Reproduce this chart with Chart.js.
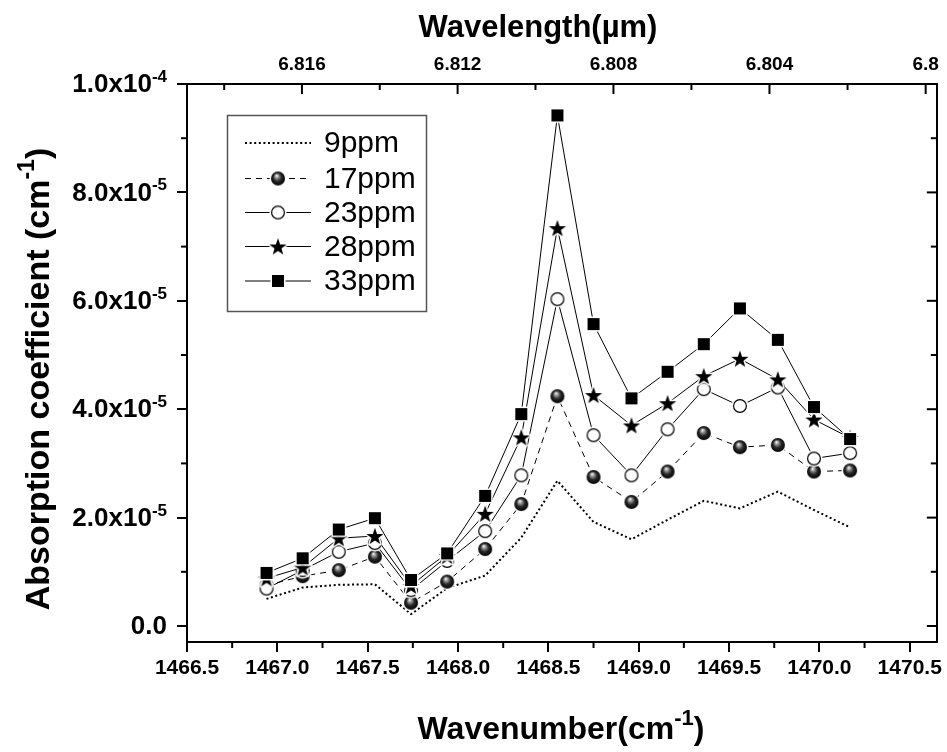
<!DOCTYPE html>
<html>
<head>
<meta charset="utf-8">
<script src="https://cdn.jsdelivr.net/npm/chart.js@4.4.1/dist/chart.umd.min.js"></script>
<style>
html,body{margin:0;padding:0;background:#fff;}
canvas{display:block;}
</style>
</head>
<body>
<canvas id="c" width="947" height="752"></canvas>
<script>
// ---------- DATA ----------
const wavenumbers = [1466.94, 1467.14, 1467.34, 1467.54, 1467.74, 1467.94, 1468.15, 1468.35, 1468.55, 1468.75, 1468.96, 1469.16, 1469.36, 1469.56, 1469.77, 1469.97, 1470.17];
const ppm9  = [5.0e-6, 7.1e-6, 7.6e-6, 7.7e-6, 2.2e-6, 7.0e-6, 9.3e-6, 16.3e-6, 26.8e-6, 19.2e-6, 16.0e-6, 19.6e-6, 23.1e-6, 21.7e-6, 24.8e-6, 21.4e-6, 18.2e-6];
const ppm17 = [7.5e-6, 9.2e-6, 10.3e-6, 12.8e-6, 4.3e-6, 8.2e-6, 14.2e-6, 22.5e-6, 42.4e-6, 27.5e-6, 22.9e-6, 28.5e-6, 35.6e-6, 33.0e-6, 33.4e-6, 28.5e-6, 28.7e-6];
const ppm23 = [6.9e-6, 10.3e-6, 13.7e-6, 15.3e-6, 6.6e-6, 12.0e-6, 17.5e-6, 27.8e-6, 60.3e-6, 35.2e-6, 27.8e-6, 36.3e-6, 43.7e-6, 40.6e-6, 44.0e-6, 30.9e-6, 31.9e-6];
const ppm28 = [8.8e-6, 10.8e-6, 16.2e-6, 16.6e-6, 7.4e-6, 12.9e-6, 20.7e-6, 34.8e-6, 73.4e-6, 42.6e-6, 37.0e-6, 41.1e-6, 46.1e-6, 49.3e-6, 45.5e-6, 38.1e-6, 34.7e-6];
const ppm33 = [9.8e-6, 12.5e-6, 17.8e-6, 19.9e-6, 8.5e-6, 13.4e-6, 24.0e-6, 39.1e-6, 94.2e-6, 55.7e-6, 42.0e-6, 46.9e-6, 52.0e-6, 58.6e-6, 52.8e-6, 40.4e-6, 34.5e-6];
const seriesNames = ['9ppm', '17ppm', '23ppm', '28ppm', '33ppm'];

const xTickValues = [1466.5, 1467.0, 1467.5, 1468.0, 1468.5, 1469.0, 1469.5, 1470.0, 1470.5];
const xMinorValues = [1466.75, 1467.25, 1467.75, 1468.25, 1468.75, 1469.25, 1469.75, 1470.25];
const topTickWavelengths = [6.816, 6.812, 6.808, 6.804, 6.800];
const topTickLabels = ['6.816', '6.812', '6.808', '6.804', '6.8'];
const topMinorWavelengths = [6.818, 6.814, 6.810, 6.806, 6.802];
const yTickValues = [0, 2e-5, 4e-5, 6e-5, 8e-5, 1e-4];
const yTickMantissa = ['0.0', '2.0x10', '4.0x10', '6.0x10', '8.0x10', '1.0x10'];
const yTickExponent = ['', '-5', '-5', '-5', '-5', '-4'];
const yMinorValues = [1e-5, 3e-5, 5e-5, 7e-5, 9e-5];

const xTitle = ['Wavenumber(cm', '-1', ')'];
const yTitle = ['Absorption coefficient (cm', '-1', ')'];
const topTitle = 'Wavelength(\u00b5m)';

// ---------- MARKER GLYPHS ----------
function glyph(size, fn) {
  const c = document.createElement('canvas');
  c.width = size; c.height = size;
  const g = c.getContext('2d');
  g.translate(size / 2, size / 2);
  fn(g);
  return c;
}
const ballImg = glyph(18, g => {
  g.fillStyle = '#fff'; g.beginPath(); g.arc(0, 0, 8.5, 0, Math.PI * 2); g.fill();
  const gr = g.createRadialGradient(-1.5, -3, 0.3, 0, 0, 7.2);
  gr.addColorStop(0, '#f4f4f4'); gr.addColorStop(0.22, '#9a9a9a'); gr.addColorStop(0.55, '#2a2a2a'); gr.addColorStop(1, '#000');
  g.fillStyle = gr; g.beginPath(); g.arc(0, 0, 7, 0, Math.PI * 2); g.fill();
});
const circleImg = glyph(18, g => {
  g.fillStyle = '#fff'; g.beginPath(); g.arc(0, 0, 8.5, 0, Math.PI * 2); g.fill();
  g.strokeStyle = '#000'; g.lineWidth = 1.2; g.beginPath(); g.arc(0, 0, 6.4, 0, Math.PI * 2); g.stroke();
});
function starPath(g, R, r) {
  g.beginPath();
  for (let i = 0; i < 10; i++) {
    const rad = i % 2 === 0 ? R : r;
    const a = -Math.PI / 2 + i * Math.PI / 5;
    const px = rad * Math.cos(a), py = rad * Math.sin(a);
    if (i === 0) g.moveTo(px, py); else g.lineTo(px, py);
  }
  g.closePath();
}
const starImg = glyph(24, g => {
  g.translate(0, 0.8);
  starPath(g, 9, 3.6);
  g.strokeStyle = '#fff'; g.lineWidth = 3; g.lineJoin = 'round'; g.stroke();
  g.fillStyle = '#000'; g.fill();
});
const squareImg = glyph(18, g => {
  g.fillStyle = '#fff'; g.fillRect(-7.5, -7.5, 15, 15);
  g.fillStyle = '#000'; g.fillRect(-6, -6, 12, 12);
});
const markerImgs = [null, ballImg, circleImg, starImg, squareImg];
const dashes = [[2, 2.6], [6, 5], [], [], []];
const widths = [2, 1, 1, 1, 1];
const seriesValues = [ppm9, ppm17, ppm23, ppm28, ppm33];

const FONT = '"Liberation Sans", Arial, Helvetica, sans-serif';

// ---------- DECORATION PLUGIN ----------
const deco = {
  id: 'deco',
  afterDraw(chart) {
    const ctx = chart.ctx, ca = chart.chartArea;
    const sx = chart.scales.x, sy = chart.scales.y;
    const seg = (x1, y1, x2, y2) => { ctx.beginPath(); ctx.moveTo(x1, y1); ctx.lineTo(x2, y2); ctx.stroke(); };
    ctx.save();
    ctx.strokeStyle = '#000'; ctx.lineWidth = 2; ctx.lineCap = 'butt';
    // bottom minor ticks (outward)
    xMinorValues.forEach(v => { const p = sx.getPixelForValue(v); seg(p, ca.bottom, p, ca.bottom + 6); });
    // left minor ticks (outward)
    yMinorValues.forEach(v => { const p = sy.getPixelForValue(v); seg(ca.left - 6, p, ca.left, p); });
    // right ticks (inward)
    yTickValues.forEach(v => { const p = sy.getPixelForValue(v); seg(ca.right - 10, p, ca.right, p); });
    yMinorValues.forEach(v => { const p = sy.getPixelForValue(v); seg(ca.right - 6, p, ca.right, p); });
    // top ticks (inward), wavelength positions
    topTickWavelengths.forEach(w => { const p = sx.getPixelForValue(1e4 / w); seg(p, ca.top, p, ca.top + 10); });
    topMinorWavelengths.forEach(w => { const p = sx.getPixelForValue(1e4 / w); seg(p, ca.top, p, ca.top + 6); });

    // y tick labels with superscripts
    ctx.fillStyle = '#000';
    const right = ca.left - 20;
    yTickValues.forEach((v, i) => {
      const p = sy.getPixelForValue(v);
      ctx.font = 'bold 17px ' + FONT;
      const ws = yTickExponent[i] ? ctx.measureText(yTickExponent[i]).width : 0;
      ctx.textBaseline = 'alphabetic';
      if (ws) { ctx.textAlign = 'left'; ctx.fillText(yTickExponent[i], right - ws, p - 2); }
      ctx.font = 'bold 26px ' + FONT;
      ctx.textAlign = 'right'; ctx.textBaseline = 'middle';
      ctx.fillText(yTickMantissa[i], right - ws, p + 1);
    });

    // titles with superscripts
    function supText(parts, cx, cy, big, small, raise) {
      ctx.textBaseline = 'alphabetic'; ctx.textAlign = 'left';
      ctx.font = 'bold ' + big + 'px ' + FONT;
      const w0 = ctx.measureText(parts[0]).width, w2 = ctx.measureText(parts[2]).width;
      ctx.font = 'bold ' + small + 'px ' + FONT;
      const w1 = ctx.measureText(parts[1]).width;
      let x0 = cx - (w0 + w1 + w2) / 2;
      const base = cy + big * 0.36;
      ctx.font = 'bold ' + big + 'px ' + FONT; ctx.fillText(parts[0], x0, base);
      ctx.font = 'bold ' + small + 'px ' + FONT; ctx.fillText(parts[1], x0 + w0, base - raise);
      ctx.font = 'bold ' + big + 'px ' + FONT; ctx.fillText(parts[2], x0 + w0 + w1, base);
    }
    supText(xTitle, 561, 727, 32, 22, 14);
    ctx.save();
    ctx.translate(37, 379); ctx.rotate(-Math.PI / 2);
    supText(yTitle, 0, 0, 34, 23, 15);
    ctx.restore();
    ctx.font = 'bold 31px ' + FONT; ctx.textAlign = 'center'; ctx.textBaseline = 'middle';
    ctx.fillText(topTitle, 538, 28);

    // legend
    const lx = 227.5, ly = 115.5, lw = 199, lh = 196;
    ctx.strokeStyle = '#555'; ctx.lineWidth = 1.5;
    ctx.strokeRect(lx, ly, lw, lh);
    const rows = [143, 178.5, 212.5, 246.5, 281];
    seriesNames.forEach((name, i) => {
      const ry = rows[i];
      ctx.strokeStyle = '#000'; ctx.lineWidth = widths[i];
      ctx.setLineDash(dashes[i]);
      seg(245, ry, 311, ry);
      ctx.setLineDash([]);
      const img = markerImgs[i];
      if (img) ctx.drawImage(img, 278 - img.width / 2, ry - img.height / 2);
      ctx.fillStyle = '#000';
      ctx.font = '30px ' + FONT; ctx.textAlign = 'left'; ctx.textBaseline = 'middle';
      ctx.fillText(name, 324, ry + 1);
    });
    ctx.restore();
  }
};

// ---------- CHART ----------
const datasets = seriesNames.map((name, i) => ({
  label: name,
  data: wavenumbers.map((x, k) => ({ x: x, y: seriesValues[i][k] })),
  borderColor: '#000',
  borderWidth: widths[i],
  borderDash: dashes[i],
  fill: false,
  tension: 0,
  pointStyle: markerImgs[i] || 'circle',
  pointRadius: markerImgs[i] ? 6 : 0,
  pointHoverRadius: markerImgs[i] ? 6 : 0,
  order: 4 - i
}));

new Chart(document.getElementById('c'), {
  type: 'line',
  data: { datasets },
  plugins: [deco],
  options: {
    responsive: false,
    animation: false,
    devicePixelRatio: 1,
    layout: { padding: 0 },
    plugins: { legend: { display: false }, tooltip: { enabled: false } },
    scales: {
      x: {
        type: 'linear', position: 'bottom', min: 1466.5, max: 1470.65,
        afterBuildTicks: s => { s.ticks = xTickValues.map(v => ({ value: v })); },
        afterFit: s => { s.height = 110; },
        ticks: { callback: v => Number(v).toFixed(1), color: '#000', font: { family: FONT, size: 21, weight: 'bold' }, padding: 4, maxRotation: 0, autoSkip: false },
        grid: { display: true, drawOnChartArea: false, drawTicks: true, tickLength: 10, color: '#000', lineWidth: 2 },
        border: { display: true, color: '#000', width: 2 }
      },
      x2: {
        type: 'linear', position: 'top', min: 1466.5, max: 1470.65,
        afterBuildTicks: s => { s.ticks = topTickWavelengths.map(w => ({ value: 1e4 / w })); },
        afterFit: s => { s.height = 84; },
        ticks: { callback: (v, i) => topTickLabels[i], color: '#000', font: { family: FONT, size: 19, weight: 'bold' }, padding: 8, maxRotation: 0, autoSkip: false },
        grid: { display: false, drawTicks: false },
        border: { display: true, color: '#000', width: 2 }
      },
      y: {
        type: 'linear', position: 'left', min: -2.95e-6, max: 1e-4,
        afterBuildTicks: s => { s.ticks = yTickValues.map(v => ({ value: v })); },
        afterFit: s => { s.width = 187; },
        ticks: { display: false },
        grid: { display: true, drawOnChartArea: false, drawTicks: true, tickLength: 10, color: '#000', lineWidth: 2 },
        border: { display: true, color: '#000', width: 2 }
      },
      y2: {
        type: 'linear', position: 'right', min: -2.95e-6, max: 1e-4,
        afterFit: s => { s.width = 8; },
        ticks: { display: false },
        grid: { display: false, drawTicks: false },
        border: { display: true, color: '#000', width: 2 }
      }
    }
  }
});
</script>
</body>
</html>
